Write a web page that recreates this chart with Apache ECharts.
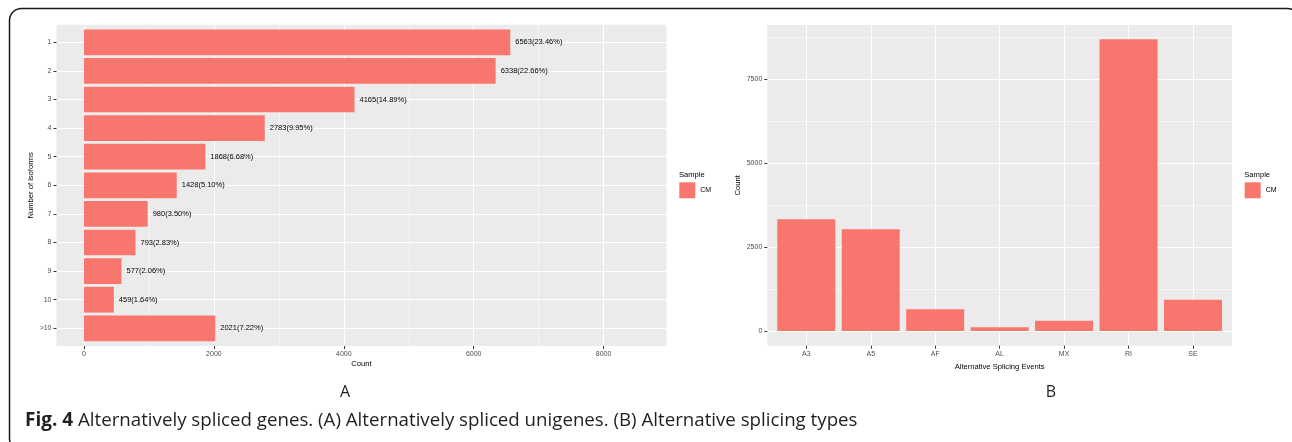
<!DOCTYPE html>
<html>
<head>
<meta charset="utf-8">
<script src="https://cdn.jsdelivr.net/npm/echarts@6/dist/echarts.min.js"></script>
<style>
  html, body { margin: 0; padding: 0; background: #ffffff; }
  #chart { width: 1292px; height: 442px; }
</style>
</head>
<body>
<div id="chart"></div>
<script>
// Panel A: number of isoforms per unigene
const isoformCategories = ['1', '2', '3', '4', '5', '6', '7', '8', '9', '10', '>10'];
const isoformCounts = [6563, 6338, 4165, 2783, 1868, 1428, 980, 793, 577, 459, 2021];
const isoformPercents = ['23.46%', '22.66%', '14.89%', '9.95%', '6.68%', '5.10%', '3.50%', '2.83%', '2.06%', '1.64%', '7.22%'];

// Panel B: alternative splicing event types
const eventCategories = ['A3', 'A5', 'AF', 'AL', 'MX', 'RI', 'SE'];
const eventCounts = [3324, 3027, 646, 110, 307, 8680, 932];

const sampleName = 'CM';

const BAR = '#F8766D';
const PANEL = '#EBEBEB';
const TICK_TEXT = '#4D4D4D';
const FONT = '"Liberation Sans", Arial, Helvetica, sans-serif';

const tickStyle = { show: true, length: 3, lineStyle: { color: '#333333', width: 1 } };
const majorGrid = { show: true, lineStyle: { color: '#FFFFFF', width: 1 } };
const minorGrid = { show: true, lineStyle: { color: '#FFFFFF', width: 0.5 } };
const labelStyle = { color: TICK_TEXT, fontSize: 7, fontFamily: FONT, margin: 5 };
const titleStyle = { color: '#000000', fontSize: 7.6, fontFamily: FONT };
const plain = v => String(v);
const off = { show: false };
const noLine = { show: false, onZero: false };

const chart = echarts.init(document.getElementById('chart'), null, { renderer: 'canvas' });

chart.setOption({
  animation: false,
  backgroundColor: '#ffffff',
  grid: [
    // 0: panel A value gridlines and x ticks
    { left: 84, top: 24.7, width: 519.6, height: 321.3 },
    // 1: panel A bars and category axis
    { left: 56.5, top: 42.3, width: 610, height: 286 },
    // 2: panel B major value gridlines and y ticks (0 .. 7500)
    { left: 767.3, top: 79, width: 464.7, height: 252 },
    // 3: panel B bars and category axis
    { left: 806.3, top: 25, width: 386.7, height: 320.7 },
    // 4: panel B minor value gridlines (0 .. 8750)
    { left: 767.3, top: 37, width: 464.7, height: 294 }
  ],
  xAxis: [
    {
      gridIndex: 0, type: 'value', min: 0, max: 8000, interval: 2000,
      axisLine: noLine, axisTick: tickStyle,
      axisLabel: Object.assign({ formatter: plain }, labelStyle),
      splitLine: majorGrid,
      minorTick: { show: false, splitNumber: 2 }, minorSplitLine: minorGrid
    },
    {
      gridIndex: 1, type: 'value', min: -423.4, max: 8968.4,
      axisLine: noLine, axisTick: off, axisLabel: off, splitLine: off,
      name: 'Count', nameLocation: 'middle', nameGap: 31.5, nameTextStyle: titleStyle
    },
    { gridIndex: 2, type: 'value', show: false, min: 0, max: 1 },
    {
      gridIndex: 3, type: 'category', data: eventCategories, boundaryGap: false,
      axisLine: noLine, axisTick: tickStyle,
      axisLabel: Object.assign({ interval: 0 }, labelStyle),
      splitLine: Object.assign({ interval: 0 }, majorGrid),
      name: 'Alternative Splicing Events', nameLocation: 'middle', nameGap: 14.5,
      nameTextStyle: titleStyle
    },
    { gridIndex: 4, type: 'value', show: false, min: 0, max: 1 }
  ],
  yAxis: [
    { gridIndex: 0, type: 'value', show: false, min: 0, max: 1 },
    {
      gridIndex: 1, type: 'category', data: isoformCategories, inverse: true, boundaryGap: false,
      axisLine: noLine, axisTick: tickStyle,
      axisLabel: Object.assign({ interval: 0 }, labelStyle),
      splitLine: Object.assign({ interval: 0 }, majorGrid),
      name: 'Number of isoforms', nameLocation: 'middle', nameGap: 21.5, nameTextStyle: titleStyle
    },
    {
      gridIndex: 2, type: 'value', min: 0, max: 7500, interval: 2500, z: 2,
      axisLine: noLine, axisTick: tickStyle,
      axisLabel: Object.assign({ formatter: plain }, labelStyle),
      splitLine: majorGrid
    },
    {
      gridIndex: 3, type: 'value', min: -437.5, max: 9107,
      axisLine: noLine, axisTick: off, axisLabel: off, splitLine: off,
      name: 'Count', nameLocation: 'middle', nameGap: 64.8, nameTextStyle: titleStyle
    },
    {
      gridIndex: 4, type: 'value', min: 0, max: 8750, interval: 1250, z: 1,
      axisLine: noLine, axisTick: off, axisLabel: off,
      splitLine: minorGrid
    }
  ],
  legend: [
    {
      left: 679.3, top: 182.3, padding: 0, orient: 'vertical',
      itemWidth: 16, itemHeight: 16, icon: 'rect', selectedMode: false,
      data: [sampleName],
      textStyle: { color: '#000000', fontSize: 7, fontFamily: FONT }
    },
    {
      left: 1244.7, top: 182.3, padding: 0, orient: 'vertical',
      itemWidth: 16, itemHeight: 16, icon: 'rect', selectedMode: false,
      data: [sampleName],
      textStyle: { color: '#000000', fontSize: 7, fontFamily: FONT }
    }
  ],
  series: [
    {
      name: sampleName, type: 'bar', xAxisIndex: 1, yAxisIndex: 1, z: 5,
      data: isoformCounts, barWidth: '90%', clip: false,
      itemStyle: { color: BAR },
      label: {
        show: true, position: 'right', distance: 5,
        color: '#000000', fontSize: 7.5, fontFamily: FONT,
        formatter: p => isoformCounts[p.dataIndex] + '(' + isoformPercents[p.dataIndex] + ')'
      }
    },
    {
      name: sampleName, type: 'bar', xAxisIndex: 3, yAxisIndex: 3, z: 5,
      data: eventCounts, barWidth: '90%', clip: false,
      itemStyle: { color: BAR }
    }
  ],
  graphic: [
    // panel backgrounds
    { type: 'rect', z: -10, shape: { x: 56.5, y: 24.7, width: 610, height: 321.3 }, style: { fill: PANEL } },
    { type: 'rect', z: -10, shape: { x: 767.3, y: 25, width: 464.7, height: 320.7 }, style: { fill: PANEL } },
    // figure frame
    { type: 'rect', z: -20, shape: { x: 9.5, y: 8.5, width: 1290, height: 442, r: 12 },
      style: { fill: 'none', stroke: '#1a1a1a', lineWidth: 1.5 } },
    // legend titles
    { type: 'text', left: 679, top: 170.5, style: { text: 'Sample', fill: '#000000', font: '7.6px ' + FONT } },
    { type: 'text', left: 1244.3, top: 170.5, style: { text: 'Sample', fill: '#000000', font: '7.6px ' + FONT } },
    // panel letters
    { type: 'text', x: 345, y: 392, style: { text: 'A', fill: '#231F20', font: '16px "Open Sans", sans-serif', textAlign: 'center', textVerticalAlign: 'middle' } },
    { type: 'text', x: 1051, y: 392, style: { text: 'B', fill: '#231F20', font: '16px "Open Sans", sans-serif', textAlign: 'center', textVerticalAlign: 'middle' } },
    // caption
    {
      type: 'text', x: 25, y: 421,
      style: {
        text: '{b|Fig. 4} {r|Alternatively spliced genes. (A) Alternatively spliced unigenes. (B) Alternative splicing types}',
        textVerticalAlign: 'middle',
        rich: {
          b: { fontFamily: '"Open Sans", sans-serif', fontWeight: 'bold', fontSize: 19, fill: '#231F20' },
          r: { fontFamily: '"Open Sans", sans-serif', fontSize: 18.7, fill: '#231F20' }
        },
        font: '18.7px "Open Sans", sans-serif', fill: '#231F20'
      }
    }
  ]
});
</script>
</body>
</html>
